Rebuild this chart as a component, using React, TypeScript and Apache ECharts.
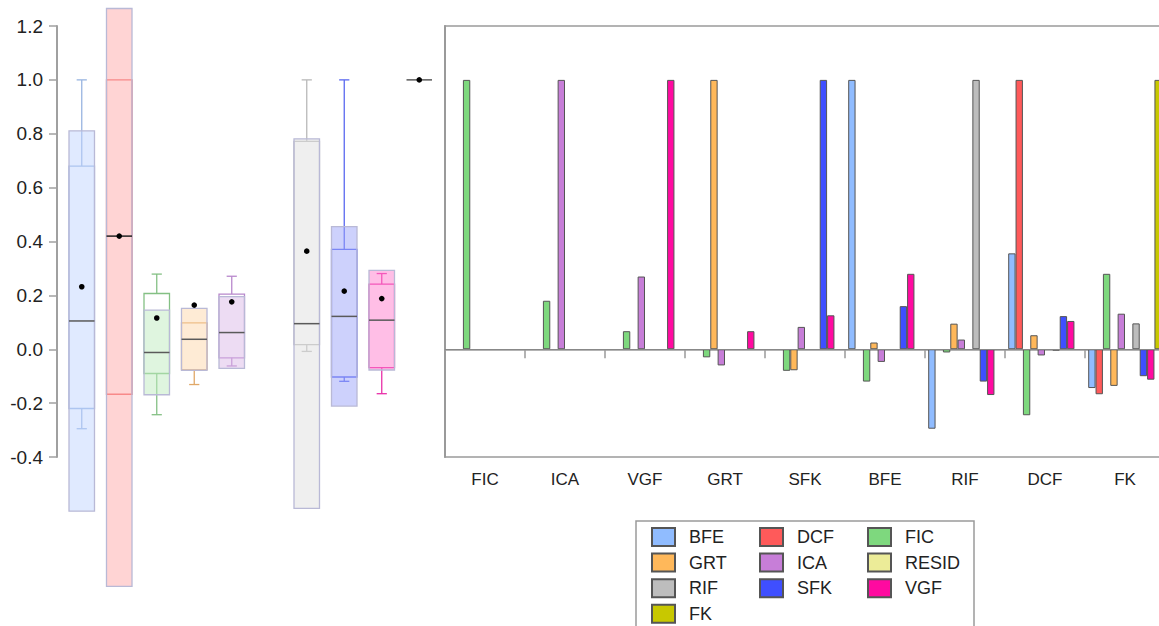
import React, { useEffect, useRef } from "react";
import * as echarts from "echarts";

// ---------- data ----------
const seriesNames = ["BFE", "DCF", "FIC", "GRT", "ICA", "RESID", "RIF", "SFK", "VGF", "FK"];
const barCategories = ["FIC", "ICA", "VGF", "GRT", "SFK", "BFE", "RIF", "DCF", "FK"];

// bar values, one array per series, in barCategories order
const bfeValues = [0, 0, 0, 0, 0, 1.0, -0.295, 0.356, -0.144];
const dcfValues = [0, 0, 0, 0, 0, 0, 0, 1.0, -0.167];
const ficValues = [1.0, 0.18, 0.067, -0.03, -0.08, -0.12, -0.012, -0.245, 0.28];
const grtValues = [0, 0, 0, 1.0, -0.078, 0.025, 0.095, 0.052, -0.136];
const icaValues = [0, 1.0, 0.27, -0.06, 0.083, -0.047, 0.036, -0.023, 0.132];
const residValues = [0, 0, 0, 0, 0, 0, 0, 0, 0];
const rifValues = [0, 0, 0, 0, 0, 0, 1.0, -0.005, 0.096];
const sfkValues = [0, 0, 0, 0, 1.0, 0.16, -0.12, 0.123, -0.1];
const vgfValues = [0, 0, 1.0, 0.067, 0.126, 0.28, -0.17, 0.105, -0.113];
const fkValues = [0, 0, 0, 0, 0, 0, 0, 0, 1.0];
const barValues = [bfeValues, dcfValues, ficValues, grtValues, icaValues, residValues, rifValues, sfkValues, vgfValues, fkValues];

// box plot statistics, in seriesNames order (null = no box drawn)
const boxMin = [-0.295, -0.167, -0.243, -0.131, -0.062, null, -0.008, -0.119, -0.165, 1.0];
const boxQ1 = [-0.22, -0.167, -0.09, -0.076, -0.032, null, 0.017, -0.103, -0.068, 1.0];
const boxMedian = [0.105, 0.42, -0.012, 0.037, 0.062, null, 0.095, 0.122, 0.108, 1.0];
const boxQ3 = [0.68, 1.0, 0.207, 0.098, 0.205, null, 0.772, 0.371, 0.242, 1.0];
const boxMax = [1.0, 1.0, 0.279, 0.098, 0.271, null, 1.0, 1.0, 0.281, 1.0];
const boxMean = [0.232, 0.42, 0.116, 0.164, 0.176, null, 0.364, 0.216, 0.188, 1.0];
const boxCiHalf = [0.706, 1.3, 0.157, 0.115, 0.133, null, 0.686, 0.333, 0.185, 0];

const yMin = -0.4;
const yMax = 1.2;
const yStep = 0.2;
const ciClipTop = 1.265;

// ---------- styles ----------
const FONT = "'Liberation Sans', Arial, sans-serif";
const barColors = ["#90bcff", "#ff5a5a", "#7ed87e", "#ffb85a", "#c77ed8", "#ecec98", "#bdbdbd", "#3f4fff", "#ff0aa0", "#c8c800"];
const boxLineColors = ["#98b4e0", "#f06868", "#84c084", "#e0a868", "#b888cc", "#999", "#b8b8b8", "#5a68f0", "#e830a8", "#555"];
const boxCiFills = [
  "rgba(193,213,255,0.5)",
  "rgba(255,169,169,0.5)",
  "rgba(191,235,191,0.5)",
  "rgba(253,215,171,0.5)",
  "rgba(219,185,231,0.5)",
  "rgba(230,230,150,0.5)",
  "rgba(223,223,223,0.5)",
  "rgba(155,163,249,0.5)",
  "rgba(255,125,205,0.5)",
  "rgba(200,200,0,0.5)",
];

const CHART_W = 1166;

export default function App() {
  const ref = useRef<HTMLDivElement>(null);

  useEffect(() => {
    if (!ref.current) return;
    const chart = echarts.init(ref.current, null, { renderer: "svg" });

    const boxData: any[] = [];
    seriesNames.forEach((_, i) => {
      if (boxMedian[i] === null) return;
      boxData.push([i, boxMin[i], boxQ1[i], boxMedian[i], boxQ3[i], boxMax[i], boxMean[i], boxCiHalf[i]]);
    });

    const renderBox = (params: any, api: any) => {
      const xi = api.value(0);
      const mn = api.value(1);
      const q1 = api.value(2);
      const md = api.value(3);
      const q3 = api.value(4);
      const mx = api.value(5);
      const mean = api.value(6);
      const half = api.value(7);
      const cx = api.coord([xi, 0])[0];
      const bw = api.size([1, 0])[0] * 0.68;
      const capW = bw * 0.4;
      const y = (v: number) => api.coord([xi, v])[1];
      const lc = boxLineColors[xi];
      const children: any[] = [];
      if (half > 0) {
        children.push({
          type: "rect",
          shape: { x: cx - bw / 2, y: y(q3), width: bw, height: y(q1) - y(q3) },
          style: { fill: "none", stroke: lc, lineWidth: 1.3 },
        });
        if (mx > q3) {
          children.push({ type: "line", shape: { x1: cx, y1: y(q3), x2: cx, y2: y(mx) }, style: { stroke: lc, lineWidth: 1.3 } });
          children.push({ type: "line", shape: { x1: cx - capW / 2, y1: y(mx), x2: cx + capW / 2, y2: y(mx) }, style: { stroke: lc, lineWidth: 1.3 } });
        }
        if (mn < q1) {
          children.push({ type: "line", shape: { x1: cx, y1: y(q1), x2: cx, y2: y(mn) }, style: { stroke: lc, lineWidth: 1.3 } });
          children.push({ type: "line", shape: { x1: cx - capW / 2, y1: y(mn), x2: cx + capW / 2, y2: y(mn) }, style: { stroke: lc, lineWidth: 1.3 } });
        }
        const top = Math.max(y(md + half), y(ciClipTop));
        const bot = y(md - half);
        children.push({
          type: "rect",
          shape: { x: cx - bw / 2, y: top, width: bw, height: bot - top },
          style: { fill: boxCiFills[xi], stroke: "#b9b9d6", lineWidth: 1.3 },
        });
      }
      children.push({
        type: "line",
        shape: { x1: cx - bw / 2, y1: y(md), x2: cx + bw / 2, y2: y(md) },
        style: { stroke: xi === 1 ? "#222" : "#5a5a5a", lineWidth: 1.5 },
      });
      children.push({ type: "circle", shape: { cx, cy: y(mean), r: 2.8 }, style: { fill: "#000" } });
      return { type: "group", children };
    };

    const barSeries = seriesNames.map((name, i) => ({
      name,
      type: "bar",
      xAxisIndex: 1,
      yAxisIndex: 1,
      data: barValues[i].map((v) => (v === 0 ? null : v)),
      barGap: "0%",
      barCategoryGap: "8%",
      itemStyle: { color: barColors[i], borderColor: "#555", borderWidth: 1 },
      ...(i === 0
        ? {
            markLine: {
              silent: true,
              symbol: ["none", "none"],
              label: { show: false },
              lineStyle: { color: "#888", width: 1, type: "solid" },
              data: [{ yAxis: 0 }],
            },
          }
        : {}),
    }));

    const legendBase = {
      orient: "vertical",
      top: 527,
      height: 120,
      padding: 0,
      itemWidth: 23,
      itemHeight: 18,
      itemGap: 5.6,
      icon: "rect",
      selectedMode: false,
      textStyle: { fontSize: 18, lineHeight: 18, color: "#222", fontFamily: FONT, padding: [0, 0, 0, 9] },
    };

    chart.setOption({
      animation: false,
      textStyle: { fontFamily: FONT },
      grid: [
        { left: 63, width: 375, top: 26, bottom: 169 },
        { left: 445, width: 720, top: 26, bottom: 169, show: true, borderColor: "#9a9a9a", borderWidth: 1.5 },
      ],
      xAxis: [
        { gridIndex: 0, type: "category", data: seriesNames, show: false },
        {
          gridIndex: 1,
          type: "category",
          data: barCategories,
          axisLine: { lineStyle: { color: "#9a9a9a", width: 1.5 } },
          axisTick: { show: true, length: 9, lineStyle: { color: "#9a9a9a", width: 1.5 } },
          axisLabel: { fontSize: 17, color: "#222", margin: 14, fontFamily: FONT },
        },
      ],
      yAxis: [
        {
          gridIndex: 0,
          type: "value",
          min: yMin,
          max: yMax,
          interval: yStep,
          offset: 6,
          axisLine: { show: true, lineStyle: { color: "#a0a0a0", width: 2 } },
          axisTick: { show: true, length: 8, lineStyle: { color: "#a0a0a0", width: 1.5 } },
          axisLabel: { fontSize: 19, color: "#222", margin: 14, fontFamily: FONT, formatter: (v: number) => v.toFixed(1) },
          splitLine: { show: false },
        },
        {
          gridIndex: 1,
          type: "value",
          min: yMin,
          max: yMax,
          interval: yStep,
          axisLine: { show: true, lineStyle: { color: "#9a9a9a", width: 2 } },
          axisTick: { show: false },
          axisLabel: { show: false },
          splitLine: { show: false },
        },
      ],
      legend: [
        { ...legendBase, left: 651, data: ["BFE", "GRT", "RIF", "FK"] },
        { ...legendBase, left: 759, data: ["DCF", "ICA", "SFK"] },
        { ...legendBase, left: 867, data: ["FIC", "RESID", "VGF"] },
      ],
      graphic: [
        {
          type: "rect",
          silent: true,
          shape: { x: 636, y: 521, width: 338, height: 120 },
          style: { fill: "none", stroke: "#9a9a9a", lineWidth: 1.5 },
        },
      ],
      series: [
        {
          type: "custom",
          xAxisIndex: 0,
          yAxisIndex: 0,
          clip: false,
          renderItem: renderBox,
          encode: { x: 0, y: [1, 2, 3, 4, 5, 6] },
          data: boxData,
        },
        ...barSeries,
      ],
    } as any);

    return () => chart.dispose();
  }, []);

  return (
    <div style={{ position: "fixed", left: 0, top: 0, width: 1159, height: 626, overflow: "hidden", background: "#fff" }}>
      <div ref={ref} style={{ position: "absolute", left: 0, top: 0, width: CHART_W, height: 626 }} />
    </div>
  );
}
